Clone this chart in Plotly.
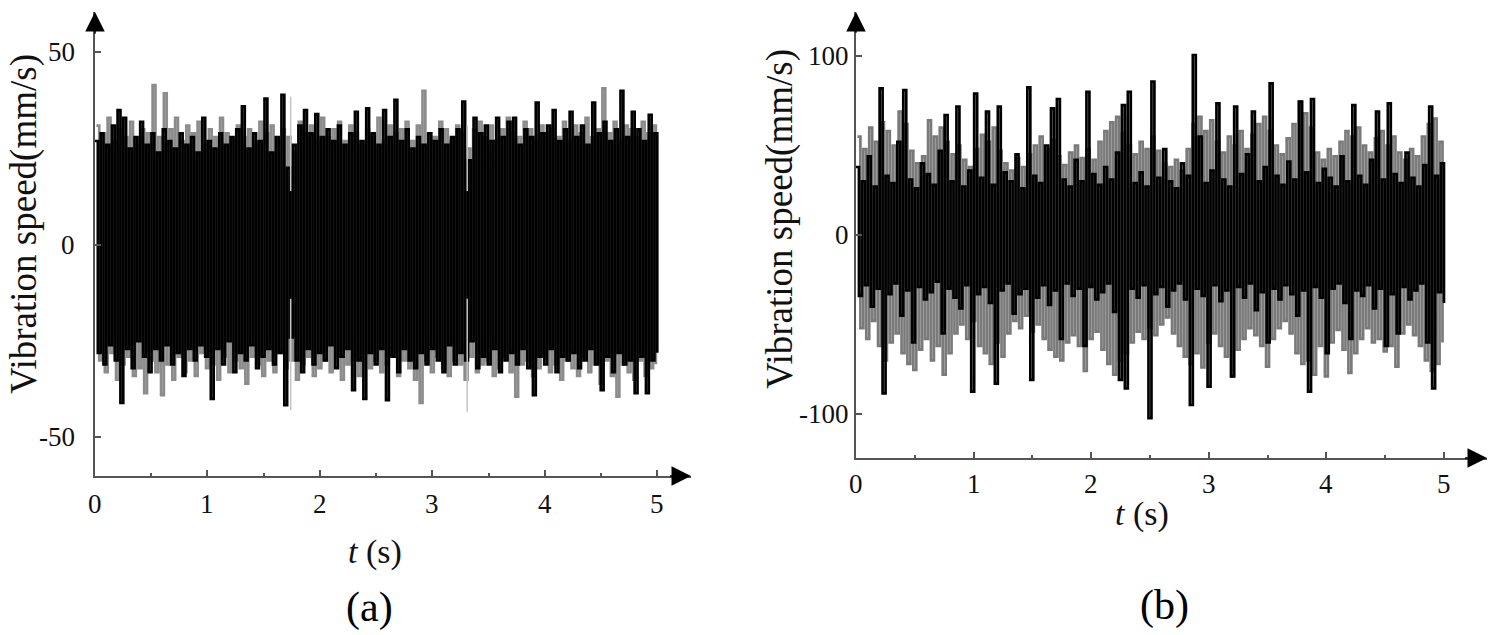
import numpy as np
import plotly.graph_objects as go

# ---------------- data ----------------
# Panel (a): peaks (hi) and troughs (lo) of each signal, evenly sampled over 0-5 s
black_a_hi = [27, 29, 26, 31, 35, 33, 25, 28, 32, 26, 29, 24, 30, 27, 25, 29, 26, 28, 24, 33,
              27, 25, 29, 26, 28, 30, 36, 25, 29, 27, 38, 24, 28, 39, 20, 26, 31, 35, 29, 34,
              28, 30, 27, 31, 26, 29, 34.6, 27, 35.5, 29, 26, 35, 28, 37.7, 27, 30, 25, 28, 26, 29,
              27, 30, 26, 28, 30, 37.2, 22, 33, 29, 31, 27, 33, 28, 32, 33, 26, 30, 28, 37, 29,
              31, 35, 27, 30, 34.6, 28, 31, 26, 37, 29, 32, 27, 30, 40, 28, 34.6, 30, 27, 33.8, 29]
black_a_lo = [-28, -31, -26, -30, -41, -27, -32, -25, -29, -33, -27, -30, -26, -31, -28, -34, -27, -30, -26, -29,
              -40, -27, -31, -25, -33, -28, -30, -26, -32, -29, -27, -31, -28, -41.6, -24, -30, -33, -27, -31, -28,
              -30, -26, -32, -29, -27, -37.7, -30, -40, -28, -31, -27, -40.3, -29, -33, -27, -30, -32, -28, -31, -27,
              -30, -33, -26, -31, -28, -30, -25, -32, -29, -31, -27, -33, -30, -28, -31, -27, -32, -39, -29, -31,
              -27, -33, -29, -30, -28, -32, -30, -27, -31, -37.7, -29, -33, -28, -31, -30, -38.5, -29, -38.5, -30, -28]
gray_a_hi = [31, 29, 33, 27, 30, 28, 32, 26, 30, 29, 41.5, 28, 39.4, 30, 33, 27, 31, 29, 32, 26,
             30, 28, 33, 29, 27, 31, 28, 30, 26, 32, 29, 31, 27, 30, 28, 24, 32, 29, 31, 27,
             33, 28, 30, 32, 27, 31, 29, 26, 30, 28, 33, 27, 31, 29, 30, 32, 27, 31, 40, 29,
             28, 32, 30, 27, 31, 29, 25, 30, 32, 28, 31, 27, 30, 33, 29, 28, 32, 30, 27, 31,
             29, 30, 28, 32, 27, 31, 29, 33, 28, 30, 40.7, 29, 32, 27, 31, 30, 28, 32, 29, 31]
gray_a_lo = [-30, -33, -28, -35, -31, -29, -34, -32, -38.5, -30, -33, -39, -31, -35, -29, -33, -30, -34, -28, -32,
             -31, -35, -29, -33, -30, -32, -36, -29, -31, -34, -30, -33, -28, -32, -30, -35, -31, -29, -34, -32,
             -30, -33, -29, -35, -31, -30, -34, -28, -32, -30, -33, -31, -29, -34, -30, -32, -35, -41, -30, -33,
             -29, -32, -34, -30, -31, -35, -29, -33, -31, -30, -34, -32, -29, -33, -39.4, -31, -30, -34, -32, -29,
             -33, -31, -35, -30, -32, -34, -29, -33, -31, -36, -30, -34, -39.4, -31, -33, -35, -30, -34, -32, -31]
# faint isolated spikes in (a): time, upper part, lower part
light_a_t = [1.74, 3.31]
light_a_top = [38.5, 31]
light_a_bot = [-42.9, -43.3]

# Panel (b)
black_b_hi = [38, 30, 44, 27, 82, 33, 29, 52, 81, 31, 26, 40, 34, 28, 47, 67, 30, 71.7, 27, 36,
              79, 32, 69, 28, 71.7, 35, 30, 45, 26, 82.5, 33, 29, 50, 70.8, 76, 31, 27, 42, 30, 80,
              34, 28, 38, 31, 46, 72.6, 80, 29, 35, 27, 85.7, 32, 48, 30, 26, 40, 33, 100.5, 55, 29,
              36, 73.5, 31, 27, 71.7, 34, 45, 69, 30, 38, 84.7, 33, 28, 41, 31, 74.5, 35, 76, 29, 37,
              32, 27, 44, 30, 72.6, 33, 28, 42, 69, 31, 73.5, 34, 29, 46, 32, 27, 39, 71.7, 33, 40]
black_b_lo = [-34, -28, -40, -30, -88.5, -33, -27, -45, -31, -60, -29, -36, -32, -26, -55, -30, -35, -41, -28, -87.5,
              -33, -29, -38, -83, -31, -27, -44, -33, -30, -81, -35, -28, -39, -31, -58, -27, -34, -30, -62, -29,
              -36, -32, -27, -43, -81, -85.7, -30, -35, -28, -102.4, -33, -29, -40, -31, -27, -36, -95, -30, -34, -84.7,
              -28, -37, -31, -79, -29, -35, -27, -42, -32, -60, -30, -36, -28, -33, -45, -31, -87.5, -29, -35, -66,
              -30, -27, -38, -58, -31, -34, -28, -41, -30, -62, -33, -55, -29, -36, -31, -27, -60, -85.7, -32, -38]
gray_b_hi = [55, 48, 60, 52, 63, 58, 50, 69, 62, 47, 40, 44, 64, 55, 60, 52, 45, 50, 42, 38,
             48, 56, 52, 60, 47, 40, 36, 43, 38, 45, 50, 55, 48, 53, 44, 39, 46, 50, 43, 48,
             42, 52, 58, 63, 66, 57, 50, 45, 52, 48, 55, 47, 40, 38, 42, 36, 48, 62, 66, 58,
             64, 52, 46, 55, 50, 58, 48, 56, 62, 66, 58, 50, 45, 54, 62, 74.5, 68, 60, 46, 42,
             48, 44, 52, 58, 55, 60, 50, 46, 54, 58, 50, 55, 46, 42, 48, 44, 55, 62, 65, 52]
gray_b_lo = [-52, -58, -48, -62, -70, -60, -55, -66, -72, -75.4, -64, -58, -70, -62, -78, -66, -55, -50, -58, -48,
             -62, -66, -72, -60, -68, -55, -48, -52, -45, -54, -50, -58, -64, -68, -70, -60, -56, -62, -76, -58,
             -54, -64, -72, -78, -70, -66, -60, -54, -58, -52, -56, -50, -46, -55, -62, -68, -72, -66, -74, -60,
             -55, -62, -68, -79, -64, -58, -52, -56, -62, -73.5, -58, -52, -48, -55, -66, -72, -70, -78, -62, -79,
             -60, -53, -64, -77, -66, -58, -52, -60, -58, -65, -62, -73.5, -55, -50, -56, -62, -70, -76, -72, -60]

x_ticks = [0, 1, 2, 3, 4, 5]
x_minor = [0.5, 1.5, 2.5, 3.5, 4.5]
y_ticks_a = [-50, 0, 50]
y_ticks_b = [-100, 0, 100]
y_title = "Vibration speed(mm/s)"
x_title = "<i>t</i> (s)"
panel_labels = ["(a)", "(b)"]

T_END = 5.0

# ---------------- helpers ----------------
W, H = 1496, 635
FONT = "Liberation Serif"


def zig(hi, lo):
    out = []
    for h, l in zip(hi, lo):
        out += [h, l]
    return out


def dx(p0, p1):
    return [p0 / W, p1 / W]


def dy(top, bot):
    return [1 - bot / H, 1 - top / H]


def P(px, py):
    return px / W, 1 - py / H


fig = go.Figure()
LW = 2.7

# ---- panel (a)
t_black = np.linspace(0, T_END, 2 * len(black_a_hi))
t_gray = np.linspace(0.0125, T_END - 0.0125, 2 * len(gray_a_hi))
fig.add_trace(go.Scatter(x=t_gray, y=zig(gray_a_hi, gray_a_lo), mode="lines",
                         line=dict(color="#8c8c8c", width=LW, shape="hv"), xaxis="x", yaxis="y",
                         hoverinfo="skip", showlegend=False))
fig.add_trace(go.Scatter(x=t_black, y=zig(black_a_hi, black_a_lo), mode="lines",
                         line=dict(color="#000000", width=LW, shape="hv"), xaxis="x", yaxis="y",
                         hoverinfo="skip", showlegend=False))
lx, ly = [], []
for t, a, b in zip(light_a_t, light_a_top, light_a_bot):
    lx += [t, t, None, t, t, None]
    ly += [a, 14, None, -14, b, None]
fig.add_trace(go.Scatter(x=lx, y=ly, mode="lines", line=dict(color="#c4c4c4", width=1.5),
                         xaxis="x", yaxis="y", hoverinfo="skip", showlegend=False))

# ---- panel (b)
t_black_b = np.linspace(0, T_END, 2 * len(black_b_hi))
t_gray_b = np.linspace(0.0125, T_END - 0.0125, 2 * len(gray_b_hi))
fig.add_trace(go.Scatter(x=t_gray_b, y=zig(gray_b_hi, gray_b_lo), mode="lines",
                         line=dict(color="#7a7a7a", width=LW, shape="hv"), xaxis="x2", yaxis="y2",
                         hoverinfo="skip", showlegend=False))
fig.add_trace(go.Scatter(x=t_black_b, y=zig(black_b_hi, black_b_lo), mode="lines",
                         line=dict(color="#000000", width=LW, shape="hv"), xaxis="x2", yaxis="y2",
                         hoverinfo="skip", showlegend=False))

# ---------------- axes ----------------
AX_COL = "#555555"
XA_MAX, YA = 5.30, [-60.0, 60.5]
XB_MAX, YB = 5.366, [-124.6, 124.6]

common_x = dict(showgrid=False, zeroline=False, showline=True, linecolor=AX_COL, linewidth=1.5,
                ticks="inside", ticklen=6, tickwidth=1.5, tickcolor=AX_COL,
                tickvals=x_ticks, showticklabels=False,
                minor=dict(tickvals=x_minor, ticks="inside", ticklen=3, tickwidth=1.5, tickcolor=AX_COL))
common_y = dict(showgrid=False, zeroline=False, showline=True, linecolor=AX_COL, linewidth=1.5,
                ticks="inside", ticklen=6, tickwidth=1.5, tickcolor=AX_COL, showticklabels=False)

fig.update_layout(
    width=W, height=H, margin=dict(l=0, r=0, t=0, b=0),
    paper_bgcolor="white", plot_bgcolor="white",
    xaxis=dict(domain=dx(95, 691), range=[0, XA_MAX], anchor="y", **common_x),
    yaxis=dict(domain=dy(12, 476), range=YA, anchor="x", tickvals=y_ticks_a, **common_y),
    xaxis2=dict(domain=dx(856, 1487), range=[0, XB_MAX], anchor="y2", **common_x),
    yaxis2=dict(domain=dy(12, 458), range=YB, anchor="x2", tickvals=y_ticks_b, **common_y),
)

ann = []
# arrowheads at axis ends
for xr, yr, xmax, yr_ in (("x", "y", XA_MAX, YA), ("x2", "y2", XB_MAX, YB)):
    ann.append(dict(x=xmax, y=yr_[0], ax=xmax - 0.2, ay=yr_[0], xref=xr, yref=yr, axref=xr, ayref=yr,
                    showarrow=True, arrowhead=2, arrowsize=2.6, arrowwidth=1.5, arrowcolor="#000",
                    text="", standoff=0))
    ann.append(dict(x=0, y=yr_[1], ax=0, ay=yr_[1] - (yr_[1] - yr_[0]) * 0.05, xref=xr, yref=yr,
                    axref=xr, ayref=yr, showarrow=True, arrowhead=2, arrowsize=2.6, arrowwidth=1.5,
                    arrowcolor="#000", text="", standoff=0))

TICK_FONT = dict(family=FONT, size=27, color="#111")
# tick labels (a)
for v in x_ticks:
    ann.append(dict(x=v, y=1 - 504 / H, xref="x", yref="paper", text=str(v), showarrow=False,
                    font=TICK_FONT, xanchor="center", yanchor="middle"))
for v in y_ticks_a:
    ann.append(dict(x=77 / W, y=v, xref="paper", yref="y", text=str(v), showarrow=False,
                    font=TICK_FONT, xanchor="right", yanchor="middle"))
# tick labels (b)
for v in x_ticks:
    ann.append(dict(x=v, y=1 - 484 / H, xref="x2", yref="paper", text=str(v), showarrow=False,
                    font=TICK_FONT, xanchor="center", yanchor="middle"))
for v in y_ticks_b:
    ann.append(dict(x=851 / W, y=v, xref="paper", yref="y2", text=str(v), showarrow=False,
                    font=TICK_FONT, xanchor="right", yanchor="middle"))

# titles and panel labels (pixel positions)
for (px, py) in ((24, 224), (780, 219)):
    x, y = P(px, py)
    ann.append(dict(x=x, y=y, xref="paper", yref="paper", text=y_title, showarrow=False,
                    textangle=-90, font=dict(family=FONT, size=37, color="#111"),
                    xanchor="center", yanchor="middle"))
for (px, py) in ((375, 552), (1142, 514)):
    x, y = P(px, py)
    ann.append(dict(x=x, y=y, xref="paper", yref="paper", text=x_title, showarrow=False,
                    font=dict(family=FONT, size=34, color="#111"), xanchor="center", yanchor="middle"))
for lab, (px, py) in zip(panel_labels, ((369, 607), (1164, 605))):
    x, y = P(px, py)
    ann.append(dict(x=x, y=y, xref="paper", yref="paper", text=lab, showarrow=False,
                    font=dict(family=FONT, size=42, color="#000"), xanchor="center", yanchor="middle"))

fig.update_layout(annotations=ann)
fig.write_html("out.html", config={"displayModeBar": False},
               post_script="document.body.style.margin='0';document.body.style.overflow='hidden';")
